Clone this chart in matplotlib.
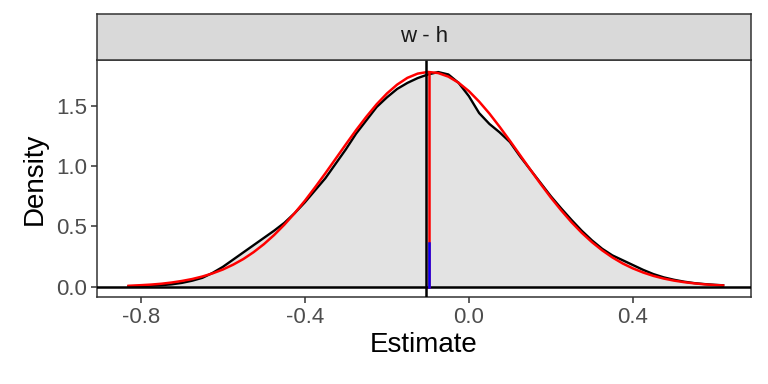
import matplotlib
matplotlib.use("Agg")
from matplotlib import pyplot as plt, ticker as mticker

plt.rcParams["font.family"] = ["Liberation Sans", "DejaVu Sans"]
plt.rcParams["axes.unicode_minus"] = False

# black density curve
dens_x = [-0.83, -0.80, -0.775, -0.75, -0.725, -0.70, -0.675, -0.65, -0.625, -0.60,
          -0.575, -0.55, -0.525, -0.50, -0.475, -0.45, -0.425, -0.40, -0.375, -0.35,
          -0.325, -0.30, -0.275, -0.25, -0.225, -0.20, -0.175, -0.15, -0.125, -0.10,
          -0.075, -0.05, -0.025, 0.00, 0.025, 0.05, 0.075, 0.10, 0.125, 0.15,
          0.175, 0.20, 0.225, 0.25, 0.275, 0.30, 0.325, 0.35, 0.375, 0.40,
          0.425, 0.45, 0.475, 0.50, 0.525, 0.55, 0.575, 0.60, 0.62]
dens_y = [0.004, 0.006, 0.009, 0.013, 0.020, 0.032, 0.050, 0.074, 0.115, 0.165,
          0.225, 0.285, 0.345, 0.405, 0.465, 0.53, 0.61, 0.70, 0.80, 0.90,
          1.02, 1.14, 1.27, 1.38, 1.49, 1.57, 1.64, 1.69, 1.73, 1.76,
          1.78, 1.76, 1.69, 1.58, 1.44, 1.35, 1.28, 1.20, 1.08, 0.97,
          0.86, 0.75, 0.65, 0.555, 0.465, 0.385, 0.315, 0.26, 0.22, 0.18,
          0.14, 0.105, 0.078, 0.058, 0.042, 0.030, 0.022, 0.016, 0.012]

# red reference curve
ref_y = [0.008, 0.013, 0.018, 0.025, 0.035, 0.048, 0.064, 0.085, 0.111, 0.143,
         0.183, 0.230, 0.287, 0.353, 0.429, 0.515, 0.610, 0.713, 0.825, 0.941,
         1.061, 1.181, 1.299, 1.410, 1.513, 1.602, 1.676, 1.732, 1.767, 1.781,
         1.772, 1.742, 1.691, 1.622, 1.535, 1.436, 1.326, 1.210, 1.090, 0.970,
         0.852, 0.739, 0.634, 0.536, 0.448, 0.370, 0.302, 0.243, 0.193, 0.152,
         0.118, 0.090, 0.068, 0.051, 0.038, 0.028, 0.020, 0.014, 0.011]

observed_x = -0.104
ref_mean_x = -0.097
ref_peak = 1.781
blue_height = 0.36

x_ticks = [-0.8, -0.4, 0.0, 0.4]
y_ticks = [0.0, 0.5, 1.0, 1.5]

W, H = 768, 384
fig = plt.figure(figsize=(W / 100, H / 100), dpi=100)
ax = fig.add_axes([97 / W, (H - 297) / H, 654 / W, 237 / H])
strip = fig.add_axes([97 / W, (H - 60) / H, 654 / W, 46 / H])

ax.fill_between(dens_x, 0, dens_y, color="#E3E3E3", lw=0, zorder=1)
ax.plot(dens_x, dens_y, color="black", lw=1.7, zorder=2)
ax.plot(dens_x, ref_y, color="red", lw=1.8, zorder=3)
ax.axhline(0, color="black", lw=1.8, zorder=4)
ax.axvline(observed_x, color="black", lw=1.8, zorder=4)
ax.plot([ref_mean_x, ref_mean_x], [0, ref_peak], color="red", lw=1.8, zorder=5)
ax.plot([ref_mean_x, ref_mean_x], [0, blue_height], color="blue", lw=1.8, zorder=6)

ax.set_xlim(-0.907, 0.688)
ax.set_ylim(-0.085, 1.88)
ax.set_xticks(x_ticks)
ax.set_yticks(y_ticks)
ax.xaxis.set_major_formatter(mticker.FormatStrFormatter("%.1f"))
ax.yaxis.set_major_formatter(mticker.FormatStrFormatter("%.1f"))
ax.tick_params(length=4, width=1.1, color="#333333", labelcolor="#4D4D4D",
               labelsize=16, pad=3)
for sp in ax.spines.values():
    sp.set_color("#333333")
    sp.set_linewidth(1.1)
ax.set_xlabel("Estimate", fontsize=20, labelpad=3)
ax.set_ylabel("Density", fontsize=20, labelpad=6)

strip.set_facecolor("#D9D9D9")
strip.set_xticks([])
strip.set_yticks([])
for sp in strip.spines.values():
    sp.set_color("#333333")
    sp.set_linewidth(1.1)
strip.text(0.5, 0.5, "w - h", ha="center", va="center", fontsize=16,
           color="#1A1A1A", transform=strip.transAxes)

fig.savefig("out.png", dpi=100)
